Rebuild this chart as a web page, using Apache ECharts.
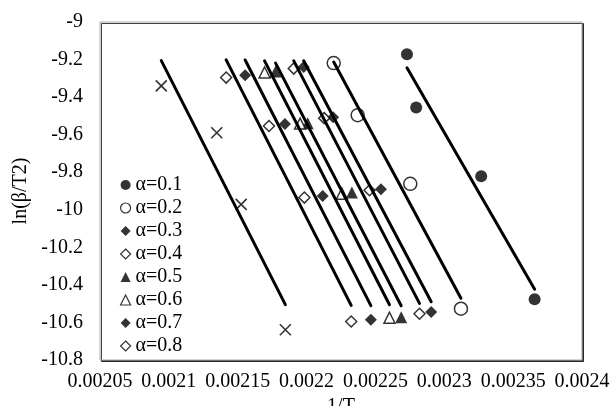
<!DOCTYPE html>
<html><head><meta charset="utf-8">
<script src="https://cdn.jsdelivr.net/npm/echarts@6/dist/echarts.min.js"></script>
<style>html,body{margin:0;padding:0;background:#fff}#c{width:612px;height:406px}</style>
</head><body><div id="c"></div>
<script>
// ---- data ----
const seriesNames = ['α=0.1','α=0.2','α=0.3','α=0.4','α=0.5','α=0.6','α=0.7','α=0.8','α=0.9'];
const legendNames = ['α=0.1','α=0.2','α=0.3','α=0.4','α=0.5','α=0.6','α=0.7','α=0.8'];
const x01 = [0.0022729, 0.0022796, 0.0023268, 0.0023656];
const y01 = [-9.172, -9.455, -9.821, -10.477];
const x02 = [0.0022197, 0.0022371, 0.0022753, 0.0023121];
const y02 = [-9.219, -9.496, -9.862, -10.527];
const x03 = [0.0021979, 0.0022193, 0.0022540, 0.0022905];
const y03 = [-9.240, -9.507, -9.891, -10.545];
const x04 = [0.0021907, 0.0022128, 0.0022457, 0.0022820];
const y04 = [-9.248, -9.512, -9.896, -10.554];
const x05 = [0.0021775, 0.0022008, 0.0022329, 0.0022687];
const y05 = [-9.264, -9.539, -9.908, -10.572];
const x06 = [0.0021695, 0.0021953, 0.0022256, 0.0022602];
const y06 = [-9.269, -9.541, -9.914, -10.575];
const x07 = [0.0021554, 0.0021843, 0.0022117, 0.0022467];
const y07 = [-9.284, -9.543, -9.926, -10.585];
const x08 = [0.0021416, 0.0021727, 0.0021984, 0.0022324];
const y08 = [-9.296, -9.554, -9.935, -10.595];
const x09 = [0.0020945, 0.0021348, 0.0021525, 0.0021846];
const y09 = [-9.340, -9.590, -9.971, -10.639];
const xAll = [x01,x02,x03,x04,x05,x06,x07,x08,x09];
const yAll = [y01,y02,y03,y04,y05,y06,y07,y08,y09];
const xMin = 0.00205, xMax = 0.0024, xStep = 0.00005;
const yMin = -10.8, yMax = -9, yStep = 0.2;

// ---- styles ----
const FONT = '"Liberation Serif", "DejaVu Serif", serif';
const filled = {color:'#000'};
const hollow = {color:'#fff', borderColor:'#000', borderWidth:1.5};
const crossPath = 'path://M0,0L10,10M10,0L0,10';
const markerStyles = [
  {symbol:'circle', size:12, style:filled},
  {symbol:'circle', size:13, style:hollow},
  {symbol:'diamond', size:12, style:filled},
  {symbol:'diamond', size:11, style:hollow},
  {symbol:'triangle', size:12, style:filled},
  {symbol:'triangle', size:11, style:hollow},
  {symbol:'diamond', size:12, style:filled},
  {symbol:'diamond', size:11, style:hollow},
  {symbol:crossPath, size:11, style:{color:'none', borderColor:'#000', borderWidth:1.6}}
];

function fit(xs, ys){
  const n = xs.length;
  const mx = xs.reduce((a,b)=>a+b,0)/n, my = ys.reduce((a,b)=>a+b,0)/n;
  let sxy=0, sxx=0;
  for(let i=0;i<n;i++){ sxy += (xs[i]-mx)*(ys[i]-my); sxx += (xs[i]-mx)*(xs[i]-mx); }
  const b = sxy/sxx, a = my - b*mx;
  const lo = Math.min(...xs), hi = Math.max(...xs);
  return [[lo, a+b*lo],[hi, a+b*hi]];
}

const series = [];
seriesNames.forEach((nm, i) => {
  const m = markerStyles[i];
  series.push({
    name: nm, type:'scatter', symbol:m.symbol, symbolSize:m.size,
    itemStyle: m.style, z:2,
    data: xAll[i].map((x,j)=>[x, yAll[i][j]])
  });
});
seriesNames.forEach((nm, i) => {
  series.push({
    name: 'trend ' + nm, type:'line', showSymbol:false, symbol:'none', silent:true, z:3,
    lineStyle:{color:'#000', width:3, cap:'round'},
    data: fit(xAll[i], yAll[i])
  });
});

const chart = echarts.init(document.getElementById('c'), null, {renderer:'canvas'});
chart.setOption({
  animation:false,
  backgroundColor:'#fff',
  grid:{left:100, top:22, right:30, bottom:46, show:true, backgroundColor:'#fff',
        outerBoundsMode:'none', containLabel:false,
        borderColor:'#a6a6a6', borderWidth:1,
        shadowColor:'rgba(0,0,0,0.75)', shadowOffsetX:1.5, shadowOffsetY:1.5, shadowBlur:0},
  legend:{
    data: legendNames, orient:'vertical', left:115, top:170,
    itemWidth:10, itemHeight:10, itemGap:3,
    itemStyle:{borderWidth:1.2},
    textStyle:{fontFamily:FONT, fontSize:20, color:'#000', lineHeight:20}
  },
  xAxis:{
    type:'value', min:xMin, max:xMax, interval:xStep,
    name:'1/T', nameLocation:'middle', nameGap:29,
    nameTextStyle:{fontFamily:FONT, fontSize:20, color:'#000'},
    axisLine:{show:false}, axisTick:{show:false}, splitLine:{show:false},
    axisLabel:{fontFamily:FONT, fontSize:20, color:'#000', margin:12,
      formatter:v=>String(parseFloat(v.toFixed(5)))}
  },
  yAxis:{
    type:'value', min:yMin, max:yMax, interval:yStep,
    name:'ln(β/T2)', nameLocation:'middle', nameGap:64, nameRotate:90,
    nameTextStyle:{fontFamily:FONT, fontSize:20, color:'#000'},
    axisLine:{show:false}, axisTick:{show:false}, splitLine:{show:false},
    axisLabel:{fontFamily:FONT, fontSize:20, color:'#000', margin:17,
      formatter:v=>String(parseFloat(v.toFixed(1)))}
  },
  series: series
});
</script>
</body></html>
